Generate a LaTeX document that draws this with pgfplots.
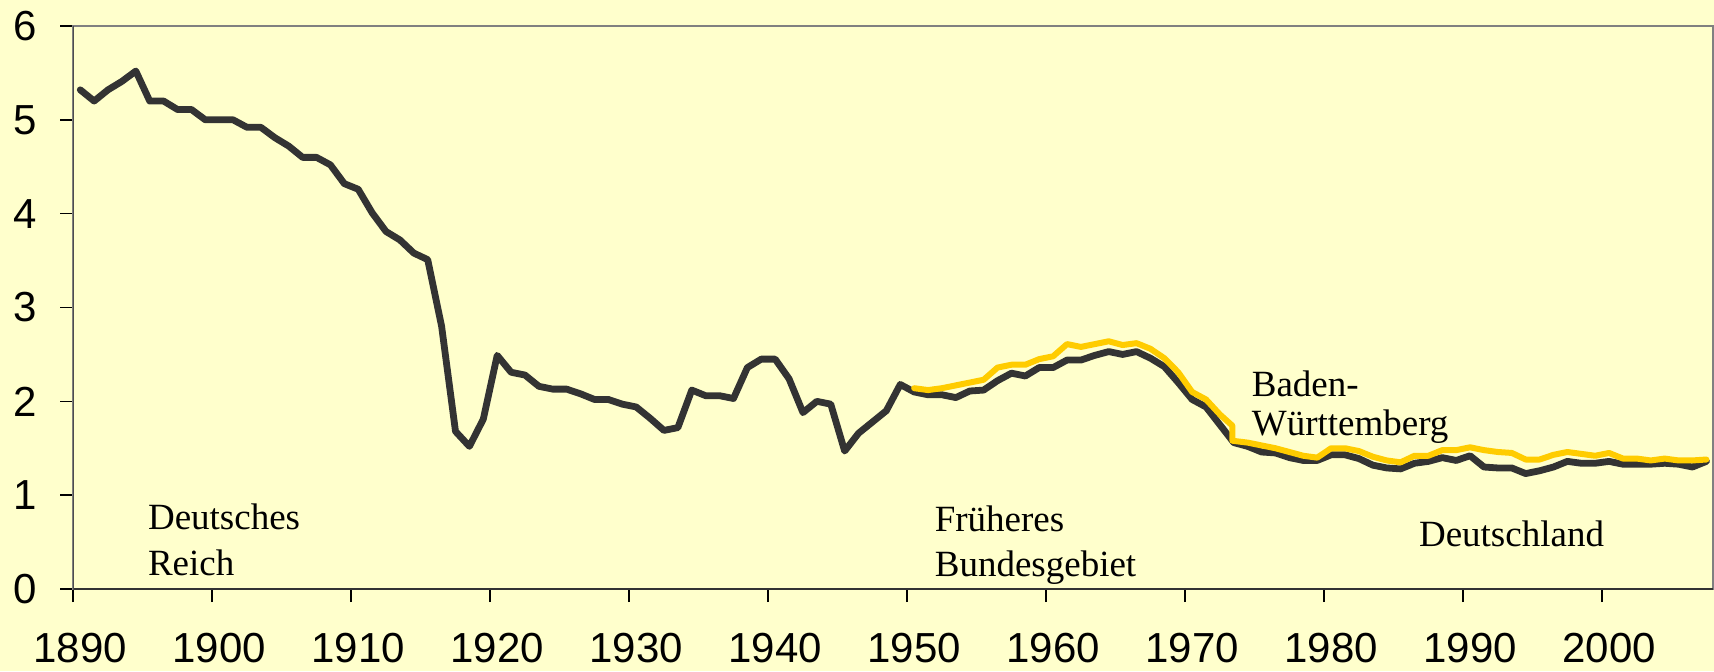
\documentclass[border=0pt]{standalone}
\usepackage{pgfplots}
\pgfplotsset{compat=1.18}
\usepackage{fontspec}
\setmainfont{Liberation Serif}
\newfontfamily\arialfont{Liberation Sans}
\definecolor{bg}{HTML}{FFFFCC}
\definecolor{dline}{HTML}{333333}
\definecolor{yline}{HTML}{FFCC00}
\definecolor{framec}{HTML}{808080}
\begin{document}
\begin{tikzpicture}
\fill[bg] (-36.65pt,-41pt) rectangle (820.35pt,294.5pt);
\useasboundingbox (-36.65pt,-41pt) rectangle (820.35pt,294.5pt);
\begin{axis}[
  scale only axis, width=820pt, height=281.5pt,
  at={(0pt,0pt)}, anchor=south west,
  xmin=1890, xmax=2008, ymin=0, ymax=6,
  xtick={1890,1900,...,2000}, ytick={0,1,...,6},
  axis line style={framec, line width=1pt},
  tick style={black, line width=0.8pt},
  tick align=outside, major tick length=6.5pt,
  xtick pos=left, ytick pos=left,
  axis background/.style={fill=bg},
  ticklabel style={font=\arialfont\fontsize{21}{21}\selectfont},
  xticklabel style={inner sep=0pt, yshift=-15.5pt, xshift=3.5pt},
  yticklabel style={xshift=-8pt},
  /pgf/number format/assume math mode=true,
  x tick label style={/pgf/number format/set thousands separator={}},
]
\addplot[dline, line width=3.4pt, line join=round, line cap=round] coordinates {
(1890.5,5.32)(1891.5,5.20)(1892.5,5.32)(1893.5,5.41)(1894.5,5.52)(1895.5,5.20)(1896.5,5.20)(1897.5,5.11)(1898.5,5.11)(1899.5,5.00)
(1900.5,5.00)(1901.5,5.00)(1902.5,4.92)(1903.5,4.92)(1904.5,4.81)(1905.5,4.72)(1906.5,4.60)(1907.5,4.60)(1908.5,4.52)(1909.5,4.32)
(1910.5,4.26)(1911.5,4.01)(1912.5,3.81)(1913.5,3.72)(1914.5,3.58)(1915.5,3.51)(1916.5,2.80)(1917.5,1.68)(1918.5,1.52)(1919.5,1.81)
(1920.5,2.49)(1921.5,2.31)(1922.5,2.28)(1923.5,2.16)(1924.5,2.13)(1925.5,2.13)(1926.5,2.08)(1927.5,2.02)(1928.5,2.02)(1929.5,1.97)
(1930.5,1.94)(1931.5,1.82)(1932.5,1.69)(1933.5,1.72)(1934.5,2.12)(1935.5,2.06)(1936.5,2.06)(1937.5,2.03)(1938.5,2.36)(1939.5,2.45)
(1940.5,2.45)(1941.5,2.24)(1942.5,1.88)(1943.5,2.00)(1944.5,1.97)(1945.5,1.47)(1946.5,1.66)(1947.5,1.78)(1948.5,1.90)(1949.5,2.18)
(1950.5,2.10)(1951.5,2.07)(1952.5,2.07)(1953.5,2.04)(1954.5,2.11)(1955.5,2.12)(1956.5,2.22)(1957.5,2.30)(1958.5,2.27)(1959.5,2.36)
(1960.5,2.36)(1961.5,2.44)(1962.5,2.44)(1963.5,2.49)(1964.5,2.53)(1965.5,2.50)(1966.5,2.53)(1967.5,2.46)(1968.5,2.37)(1969.5,2.20)
(1970.5,2.02)(1971.5,1.94)(1972.5,1.75)(1973.5,1.56)(1974.5,1.52)(1975.5,1.46)(1976.5,1.45)(1977.5,1.40)(1978.5,1.37)(1979.5,1.37)
(1980.5,1.43)(1981.5,1.43)(1982.5,1.39)(1983.5,1.32)(1984.5,1.29)(1985.5,1.28)(1986.5,1.34)(1987.5,1.36)(1988.5,1.40)(1989.5,1.37)
(1990.5,1.42)(1991.5,1.30)(1992.5,1.29)(1993.5,1.29)(1994.5,1.23)(1995.5,1.26)(1996.5,1.30)(1997.5,1.36)(1998.5,1.34)(1999.5,1.34)
(2000.5,1.36)(2001.5,1.33)(2002.5,1.33)(2003.5,1.33)(2004.5,1.34)(2005.5,1.33)(2006.5,1.30)(2007.5,1.36)
};
\addplot[yline, line width=3pt, line join=round, line cap=round] coordinates {
(1950.5,2.14)(1951.5,2.12)(1952.5,2.14)(1953.5,2.17)(1954.5,2.20)(1955.5,2.23)(1956.5,2.36)(1957.5,2.39)(1958.5,2.39)(1959.5,2.45)
(1960.5,2.48)(1961.5,2.61)(1962.5,2.58)(1963.5,2.61)(1964.5,2.64)(1965.5,2.60)(1966.5,2.62)(1967.5,2.56)(1968.5,2.46)(1969.5,2.31)
(1970.5,2.10)(1971.5,2.02)(1972.5,1.86)(1973.4,1.74)(1973.4,1.58)(1974.5,1.56)(1975.5,1.53)(1976.5,1.50)(1977.5,1.46)(1978.5,1.42)(1979.5,1.40)
(1980.5,1.50)(1981.5,1.50)(1982.5,1.47)(1983.5,1.41)(1984.5,1.37)(1985.5,1.35)(1986.5,1.42)(1987.5,1.42)(1988.5,1.48)(1989.5,1.48)
(1990.5,1.51)(1991.5,1.48)(1992.5,1.46)(1993.5,1.45)(1994.5,1.38)(1995.5,1.38)(1996.5,1.43)(1997.5,1.46)(1998.5,1.44)(1999.5,1.42)
(2000.5,1.45)(2001.5,1.39)(2002.5,1.39)(2003.5,1.37)(2004.5,1.39)(2005.5,1.37)(2006.5,1.37)(2007.5,1.38)
};
\draw[dline, line width=1pt] (rel axis cs:0,1) -- (rel axis cs:0,0) -- (rel axis cs:1,0);
\begin{scope}[every node/.style={anchor=base west, inner sep=0pt, font=\fontsize{18.5}{18.5}\selectfont}]
\node at (axis cs:1895.35,0.63) {Deutsches};
\node at (axis cs:1895.35,0.14) {Reich};
\node at (axis cs:1951.96,0.61) {Früheres};
\node at (axis cs:1951.96,0.13) {Bundesgebiet};
\node at (axis cs:1974.77,2.05) {Baden-};
\node at (axis cs:1974.77,1.64) {Württemberg};
\node at (axis cs:1986.8,0.45) {Deutschland};
\end{scope}
\end{axis}
\end{tikzpicture}
\end{document}
